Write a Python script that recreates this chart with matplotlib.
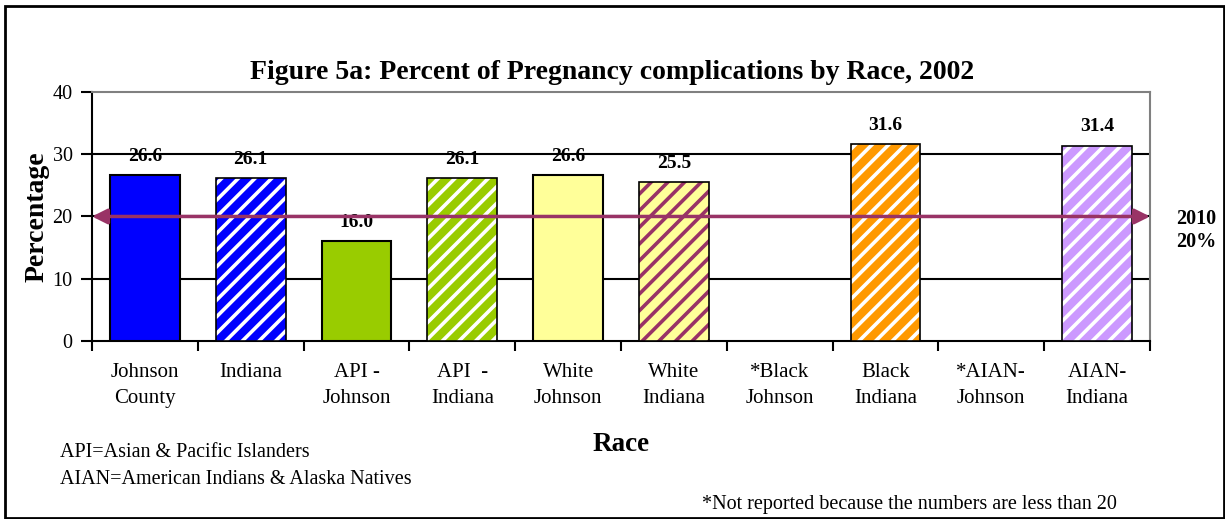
import matplotlib.pyplot as plt
from matplotlib.patches import Rectangle

plt.rcParams['font.family'] = ['Liberation Serif', 'DejaVu Serif']
plt.rcParams['hatch.linewidth'] = 2.6

categories = ['Johnson\nCounty', 'Indiana', 'API -\nJohnson', 'API  -\nIndiana', 'White\nJohnson',
              'White\nIndiana', '*Black\nJohnson', 'Black\nIndiana', '*AIAN-\nJohnson', 'AIAN-\nIndiana']
values = [26.6, 26.1, 16.0, 26.1, 26.6, 25.5, None, 31.6, None, 31.4]
fills = ['#0000FF', '#0000FF', '#99CC00', '#99CC00', '#FFFF99', '#FFFF99', None, '#FF9900', None, '#CC99FF']
stripes = [None, 'white', None, 'white', None, '#993366', None, 'white', None, 'white']
target = 20

fig = plt.figure(figsize=(12.25, 5.19), dpi=100)
ax = fig.add_axes([0.0751, 0.343, 0.8637, 0.4798])

for i, v in enumerate(values):
    if v is None:
        continue
    if stripes[i] is None:
        ax.bar(i, v, width=0.66, color=fills[i], edgecolor='black', linewidth=1.5, zorder=3)
    else:
        ax.bar(i, v, width=0.66, color=fills[i], edgecolor=stripes[i], hatch='//', linewidth=0, zorder=3)
        ax.bar(i, v, width=0.66, fill=False, edgecolor='black', linewidth=1.2, zorder=4)
    ax.text(i, v + 3.0, f'{v:.1f}', ha='center', va='center', fontsize=14, fontweight='bold', zorder=5)

ax.set_xlim(-0.5, len(categories) - 0.5)
ax.set_ylim(0, 40)
ax.set_yticks([0, 10, 20, 30, 40])
ax.tick_params(axis='y', labelsize=14.5, length=8, width=1.5, direction='out', pad=6)
ax.set_xticks([i + 0.5 for i in range(-1, len(categories))])
ax.set_xticklabels([])
ax.tick_params(axis='x', length=7, width=1.5, direction='out')
for i, c in enumerate(categories):
    ax.text(i, -3.6, c, ha='center', va='top', fontsize=15, linespacing=1.5)

for g in [10, 20, 30]:
    ax.axhline(g, color='black', linewidth=1.5, zorder=1)
for s in ['top', 'right']:
    ax.spines[s].set_color('#808080')
for s in ['top', 'right', 'left', 'bottom']:
    ax.spines[s].set_linewidth(1.5)

ax.annotate('', xy=(-0.5, target), xytext=(len(categories) - 0.5, target),
            arrowprops=dict(arrowstyle='<|-|>,head_length=0.9,head_width=0.45', color='#993366',
                            lw=2.5, shrinkA=0, shrinkB=0), zorder=6)
ax.text(1.044, target - 2.25, '2010\n20%', transform=ax.get_yaxis_transform(), ha='center', va='center',
        fontsize=14.5, fontweight='bold', linespacing=1.15)

ax.set_ylabel('Percentage', fontsize=20, fontweight='bold', labelpad=2)
fig.text(0.5, 0.861, 'Figure 5a: Percent of Pregnancy complications by Race, 2002',
         ha='center', va='center', fontsize=20, fontweight='bold')
fig.text(0.507, 0.1445, 'Race', ha='center', va='center', fontsize=19.5, fontweight='bold')
fig.text(0.049, 0.129, 'API=Asian & Pacific Islanders', ha='left', va='center', fontsize=14.5)
fig.text(0.049, 0.077, 'AIAN=American Indians & Alaska Natives', ha='left', va='center', fontsize=14.5)
fig.text(0.573, 0.027, '*Not reported because the numbers are less than 20', ha='left', va='center', fontsize=14.5)

fig.patches.append(Rectangle((0.004, 0.002), 0.995, 0.987, transform=fig.transFigure,
                             fill=False, edgecolor='black', linewidth=2))

fig.savefig('out.png', dpi=100)
